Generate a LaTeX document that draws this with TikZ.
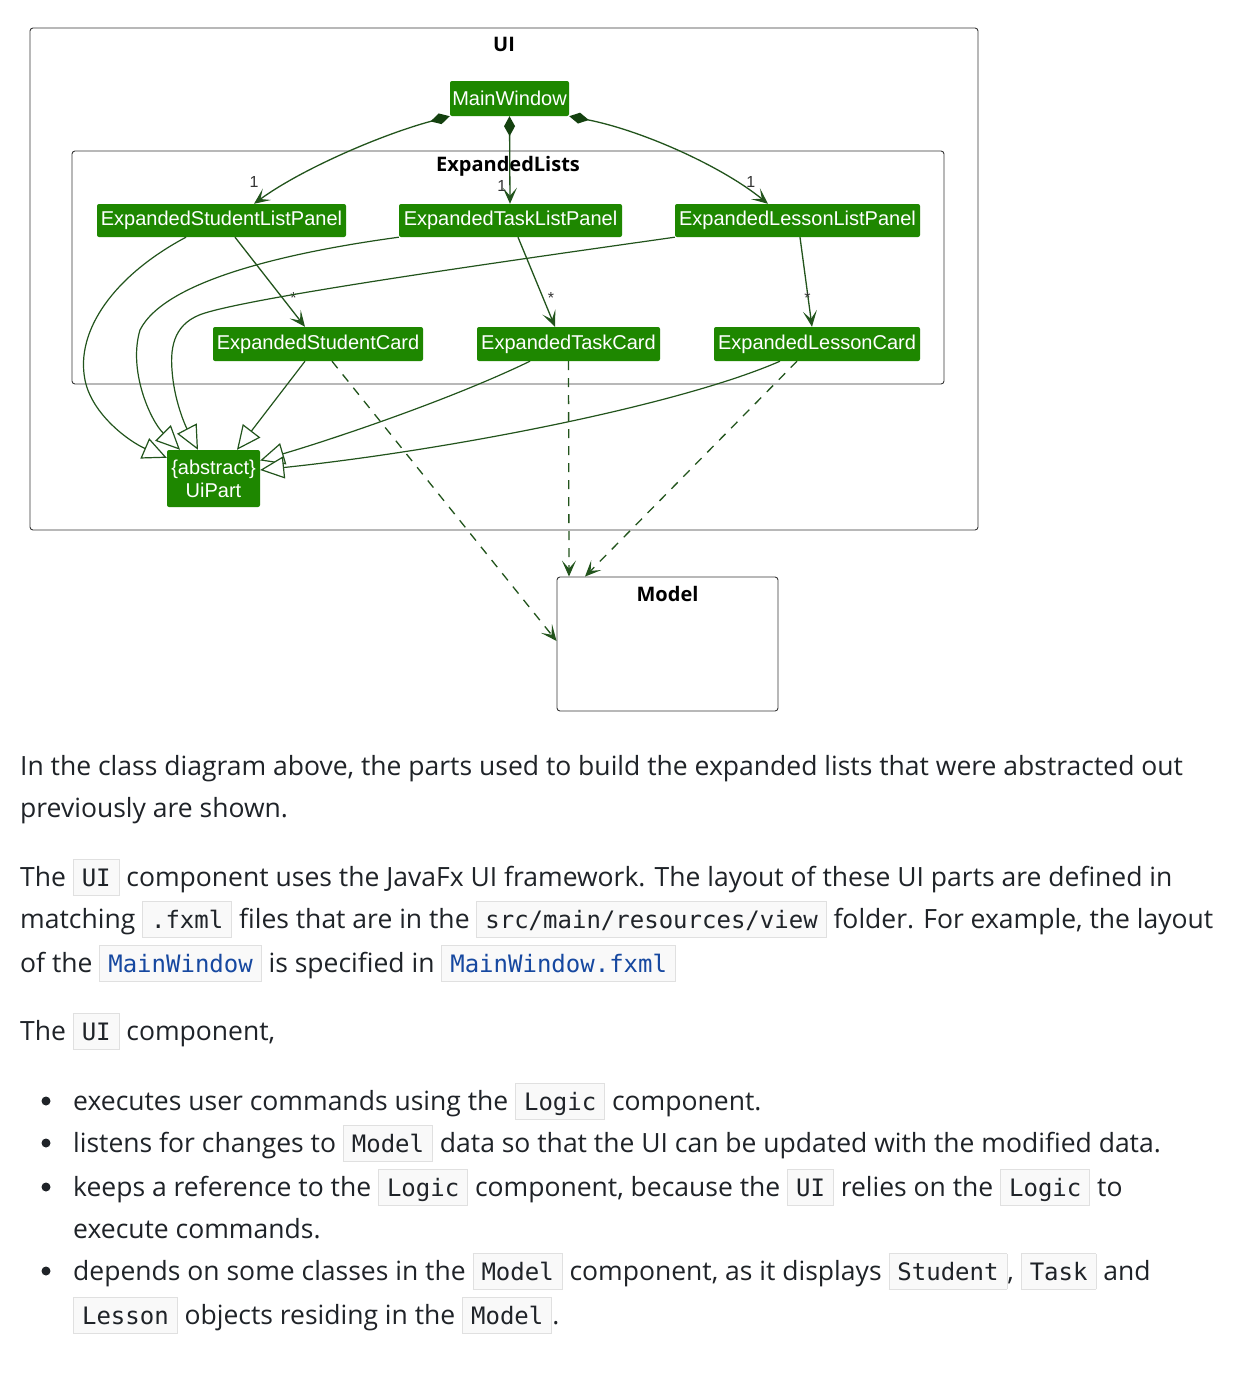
\documentclass[tikz,border=0pt]{standalone}
\usepackage{fontspec}
\setmainfont{Open Sans}
\setmonofont{DejaVu Sans Mono}
\newfontfamily\umlfont{Liberation Sans}
\usepackage{xcolor}
\usetikzlibrary{positioning,arrows.meta}

\definecolor{boxgreen}{RGB}{30,135,0}
\definecolor{linegreen}{RGB}{34,84,28}
\definecolor{diagreen}{RGB}{20,65,15}
\definecolor{pkgline}{RGB}{55,55,55}
\definecolor{bodytext}{RGB}{31,35,40}
\definecolor{codebg}{RGB}{249,249,249}
\definecolor{codeline}{RGB}{224,224,224}
\definecolor{codeblue}{RGB}{22,72,160}

\newcommand{\inlinecode}[1]{{\setlength{\fboxsep}{8pt}\setlength{\fboxrule}{0.9pt}%
  \fcolorbox{codeline}{codebg}{\rule[-1pt]{0pt}{19pt}\smash{\fontsize{24}{24}\ttfamily #1}}}}
\newcommand{\linkcode}[1]{\inlinecode{\color{codeblue}#1}}

\begin{document}
\begin{tikzpicture}[x=1pt, y=-1pt,
    cls/.style={fill=boxgreen, rounded corners=2pt, text=white, inner sep=0pt,
      font=\umlfont\fontsize{20}{23}\selectfont},
    pkg/.style={draw=pkgline, line width=0.9pt, rounded corners=3pt, inner sep=0pt},
    pkglbl/.style={font=\fontsize{20}{22}\selectfont\bfseries, inner sep=0pt},
    mult/.style={font=\umlfont\fontsize{16}{16}\selectfont, text=black!80, inner sep=0pt},
    owns/.style={draw=linegreen, line width=1.3pt,
      {Diamond[length=20pt,width=11pt,color=diagreen]}-{Stealth[length=16pt,width=14pt,inset=8pt]}},
    navig/.style={draw=linegreen, line width=1.3pt, -{Stealth[length=16pt,width=14pt,inset=8pt]}},
    inherit/.style={draw=linegreen, line width=1.2pt, -{Triangle[open,length=24pt,width=22pt,fill=white]}},
    depend/.style={draw=linegreen, line width=1.3pt, dash pattern=on 9pt off 8pt,
      -{Stealth[length=16pt,width=14pt,inset=8pt]}},
    txt/.style={anchor=base west, inner sep=0pt, text=bodytext, font=\fontsize{26.5}{30}\selectfont}]

    \fill[white] (0,0) rectangle (1240,1376);
    \useasboundingbox (0,0) rectangle (1240,1376);

    % packages
    \node[pkg, minimum width=948pt, minimum height=502pt] (uipkg) at (504,279) {};
    \node[pkglbl] (uilbl) at ([yshift=-17pt]uipkg.north) {UI};
    \node[pkg, minimum width=872pt, minimum height=233pt] (listpkg) at (508,267.5) {};
    \node[pkglbl] (listlbl) at ([yshift=-16pt]listpkg.north) {ExpandedLists};
    \node[pkg, minimum width=221pt, minimum height=134pt] (model) at (667.5,644) {};
    \node[pkglbl] (modellbl) at ([yshift=-17pt]model.north) {Model};

    % classes
    \node[cls, minimum width=119pt, minimum height=35pt] (mainwin) at (509.5,98.5) {MainWindow};
    \node[cls, minimum width=249pt, minimum height=33pt] (studpanel) at (221.5,220.5) {ExpandedStudentListPanel};
    \node[cls, minimum width=223pt, minimum height=33pt] (taskpanel) at (510.5,220.5) {ExpandedTaskListPanel};
    \node[cls, minimum width=245pt, minimum height=33pt] (lessonpanel) at (797.5,220.5) {ExpandedLessonListPanel};
    \node[cls, minimum width=210pt, minimum height=34pt] (studcard) at (318,344) {ExpandedStudentCard};
    \node[cls, minimum width=183pt, minimum height=34pt] (taskcard) at (568.5,344) {ExpandedTaskCard};
    \node[cls, minimum width=206pt, minimum height=34pt] (lessoncard) at (817,344) {ExpandedLessonCard};
    \node[cls, minimum width=93pt, minimum height=57pt, align=center] (uipart) at (213.5,478.5) {\{abstract\}\\UiPart};

    % MainWindow owns the panels
    \draw[owns] (mainwin.south west) .. controls (380,135) and (300,170) .. ([xshift=32.5pt]studpanel.north)
        node[mult, pos=1, above=16pt] (m1) {1};
    \draw[owns] (mainwin.south) -- ([xshift=-0.5pt]taskpanel.north)
        node[mult, pos=1, above left=12pt and 3pt] (m2) {1};
    \draw[owns] (mainwin.south east) .. controls (640,130) and (720,165) .. ([xshift=-29.5pt]lessonpanel.north)
        node[mult, pos=1, above left=16pt and 12pt] (m3) {1};

    % panels hold cards
    \draw[navig] ([xshift=13.5pt]studpanel.south) -- ([xshift=-13pt]studcard.north)
        node[mult, pos=0.68, right=7pt] (m4) {*};
    \draw[navig] ([xshift=7.5pt]taskpanel.south) -- ([xshift=-13.5pt]taskcard.north)
        node[mult, pos=0.68, right=4pt] (m5) {*};
    \draw[navig] ([xshift=2.5pt]lessonpanel.south) -- ([xshift=-5pt]lessoncard.north)
        node[mult, pos=0.68, left=-3pt] (m6) {*};

    % everything extends UiPart
    \draw[inherit] ([xshift=-35.5pt]studpanel.south) .. controls (115,275) and (75,330) .. (85,380)
        .. controls (92,415) and (130,442) .. ([yshift=-8pt]uipart.north west);
    \draw[inherit] (taskpanel.south west) .. controls (290,252) and (165,280) .. (140,330)
        .. controls (128,370) and (150,420) .. ([xshift=-33.5pt]uipart.north);
    \draw[inherit] (lessonpanel.south west) .. controls (500,262) and (260,296) .. (205,313)
        .. controls (175,322) and (170,345) .. (172,370)
        .. controls (174,400) and (185,425) .. ([xshift=-15.5pt]uipart.north);
    \draw[inherit] ([xshift=-13pt]studcard.south) -- ([xshift=23.5pt]uipart.north);
    \draw[inherit] ([xshift=-38.5pt]taskcard.south) .. controls (450,400) and (330,440) .. ([yshift=18pt]uipart.east);
    \draw[inherit] ([xshift=-37pt]lessoncard.south) .. controls (680,405) and (450,450) .. ([yshift=8.5pt]uipart.east);

    % cards use Model
    \draw[depend] ([xshift=14pt]studcard.south) -- ([yshift=3pt]model.west);
    \draw[depend] (taskcard.south) -- ([xshift=-98.5pt]model.north);
    \draw[depend] ([xshift=-20pt]lessoncard.south) -- ([xshift=-82.5pt]model.north);

    % text below the diagram
    \node[txt] (p1) at (20,775) {In the class diagram above, the parts used to build the expanded lists that were abstracted out};
    \node[txt] (p2) at (20,817) {previously are shown.};
    \node[txt] (p3) at (20,886) {The \inlinecode{UI} component uses the JavaFx UI framework. The layout of these UI parts are defined in};
    \node[txt] (p4) at (20,928) {matching \inlinecode{.fxml} files that are in the \inlinecode{src/main/resources/view} folder. For example, the layout};
    \node[txt] (p5) at (20,972) {of the \linkcode{MainWindow} is specified in \linkcode{MainWindow.fxml}};
    \node[txt] (p6) at (20,1040) {The \inlinecode{UI} component,};

    \foreach \y in {1101,1143,1187,1271}
        \fill[bodytext] (46,\y) circle[radius=4.5pt];
    \node[txt] (b1) at (73,1110) {executes user commands using the \inlinecode{Logic} component.};
    \node[txt] (b2) at (73,1152) {listens for changes to \inlinecode{Model} data so that the UI can be updated with the modified data.};
    \node[txt] (b3) at (73,1196) {keeps a reference to the \inlinecode{Logic} component, because the \inlinecode{UI} relies on the \inlinecode{Logic} to};
    \node[txt] (b3b) at (73,1238) {execute commands.};
    \node[txt] (b4) at (73,1280) {depends on some classes in the \inlinecode{Model} component, as it displays \inlinecode{Student}, \inlinecode{Task} and};
    \node[txt] (b4b) at (73,1324) {\inlinecode{Lesson} objects residing in the \inlinecode{Model}.};
\end{tikzpicture}
\end{document}
